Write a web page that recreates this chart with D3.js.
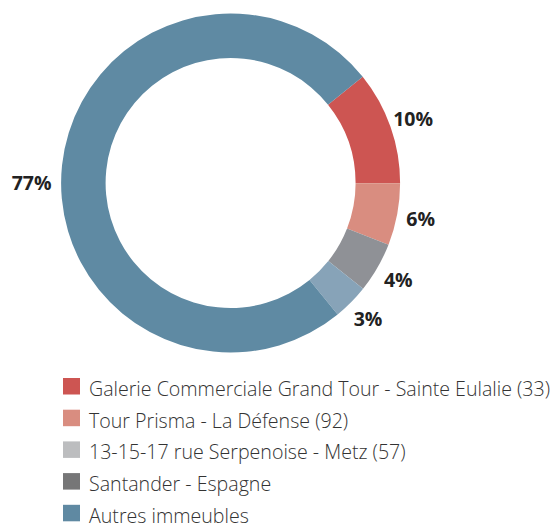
<!DOCTYPE html>
<html><head><meta charset="utf-8">
<script src="https://cdn.jsdelivr.net/npm/d3@7"></script>
<style>html,body{margin:0;padding:0;background:#fff;}svg{display:block;}</style>
</head><body>
<svg id="chart" width="554" height="524"></svg>
<script>
// Data
const sliceValues = [10.8, 5.9, 4.8, 3.4, 75.1];
const sliceLabels = ["10%", "6%", "4%", "3%", "77%"];
const sliceColors = ["#cd5552", "#d98d80", "#8f9196", "#87a3b8", "#5f8aa3"];
const legendNames = ["Galerie Commerciale Grand Tour - Sainte Eulalie (33)", "Tour Prisma - La Défense (92)", "13-15-17 rue Serpenoise - Metz (57)", "Santander - Espagne", "Autres immeubles"];
const legendColors = ["#cd5552", "#d98d80", "#bcbdbf", "#767677", "#5f89a2"];

const svg = d3.select("#chart");
const cx = 230.6, cy = 183, rOuter = 169.5, rInner = 125;
const startDeg = 51.2;
const toRad = d => d * Math.PI / 180;

const pie = d3.pie().sort(null).value(d => d)
  .startAngle(toRad(startDeg)).endAngle(toRad(startDeg + 360));
const arcs = pie(sliceValues);
const arc = d3.arc().innerRadius(rInner).outerRadius(rOuter);

const g = svg.append("g").attr("transform", `translate(${cx},${cy})`);
g.selectAll("path").data(arcs).enter().append("path")
  .attr("d", arc)
  .attr("fill", (d, i) => sliceColors[i]);

// Labels
const rLabel = 193.5;
g.selectAll("text.lbl").data(arcs).enter().append("text")
  .attr("class", "lbl")
  .each(function(d, i) {
    let a = (d.startAngle + d.endAngle) / 2;
    let r = rLabel;
    if (d.endAngle - d.startAngle > Math.PI) { a = toRad(270); r = 199; }
    const x = r * Math.sin(a), y = -r * Math.cos(a);
    d3.select(this).attr("x", x).attr("y", y).attr("dy", "0.36em");
  })
  .attr("text-anchor", "middle")
  .attr("font-family", "Open Sans, sans-serif")
  .attr("font-weight", 700)
  .attr("font-size", 19.5)
  .attr("fill", "#222")
  .text((d, i) => sliceLabels[i]);

// Legend
const legendY = d3.scaleBand().domain(d3.range(legendNames.length)).range([378, 536.5]);
const lg = svg.append("g");
const rows = lg.selectAll("g").data(legendNames).enter().append("g")
  .attr("transform", (d, i) => `translate(63,${legendY(i)})`);
rows.append("rect").attr("width", 17).attr("height", 16.5)
  .attr("fill", (d, i) => legendColors[i]);
rows.append("text").attr("x", 26).attr("y", 18)
  .attr("font-family", "Open Sans, sans-serif")
  .attr("font-size", 19.6)
  .attr("font-weight", 300)
  .attr("fill", "#333")
  .text(d => d);
</script>
</body></html>
